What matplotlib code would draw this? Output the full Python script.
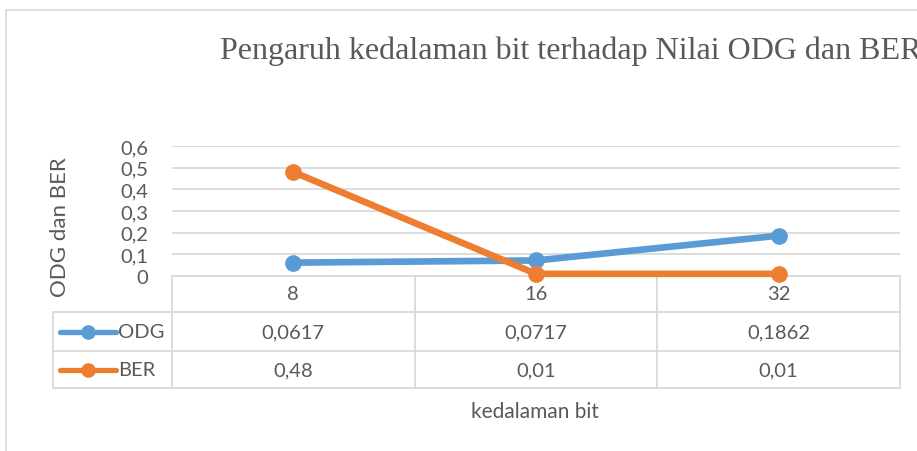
import matplotlib
matplotlib.use('Agg')
import matplotlib.pyplot as plt
from matplotlib.transforms import blended_transform_factory

# ---- data ----
categories = ['8', '16', '32']
odg = [0.0617, 0.0717, 0.1862]
ber = [0.48, 0.01, 0.01]
odg_labels = ['0,0617', '0,0717', '0,1862']
ber_labels = ['0,48', '0,01', '0,01']
yticks = [0, 0.1, 0.2, 0.3, 0.4, 0.5, 0.6]
ytick_labels = ['0', '0,1', '0,2', '0,3', '0,4', '0,5', '0,6']
series_names = ['ODG', 'BER']
title = 'Pengaruh kedalaman bit terhadap Nilai ODG dan BER'
xlabel = 'kedalaman bit'
ylabel = 'ODG dan BER'

# ---- style ----
W, H = 917, 452
BLUE = '#5B9BD5'
ORANGE = '#ED7D31'
GRID = '#D9D9D9'
TXT = '#595959'
FONT = 'Lato'
FS = 14.5

fig = plt.figure(figsize=(W / 100, H / 100), dpi=100)
fig.patch.set_facecolor('white')

ov = fig.add_axes([0, 0, 1, 1])
ov.set_xlim(0, W)
ov.set_ylim(H, 0)
ov.axis('off')

L, R, T, B = 172, 900, 147, 277
ax = fig.add_axes([L / W, 1 - B / H, (R - L) / W, (B - T) / H])
ax.patch.set_alpha(0)
ax.set_xlim(-0.5, len(categories) - 0.5)
ax.set_ylim(0, 0.6)
for s in ax.spines.values():
    s.set_visible(False)
for y in yticks[1:]:
    ax.axhline(y, color=GRID, lw=1.3, zorder=0)
ax.set_yticks(yticks)
ax.set_yticklabels(ytick_labels, fontfamily=FONT, fontsize=FS, color=TXT)
ax.tick_params(axis='y', length=0, pad=17)
ax.set_xticks([])

x = list(range(len(categories)))
ax.plot(x, odg, color=BLUE, lw=4.8, marker='o', ms=11, solid_capstyle='round', zorder=3, clip_on=False)
ax.plot(x, ber, color=ORANGE, lw=4.8, marker='o', ms=11, solid_capstyle='round', zorder=4, clip_on=False)

# chart border
ov.plot([6, W], [11, 11], color=GRID, lw=1.2)
ov.plot([6, 6], [11, H], color=GRID, lw=1.2)

# title
ov.text(220, 59, title, family='Liberation Serif', fontsize=23, color=TXT, ha='left', va='baseline')

# y label
ov.text(60, 227, ylabel, rotation=90, family=FONT, fontsize=16, color=TXT, ha='center', va='center')

# data table
tr = blended_transform_factory(ax.transData, ov.transData)
row_y = [277, 313, 352, 389]
tl = 53
lw_t = 1.3
ov.plot([L, R], [row_y[0], row_y[0]], color=GRID, lw=lw_t)
for y in row_y[1:]:
    ov.plot([tl, R], [y, y], color=GRID, lw=lw_t)
ov.plot([tl, tl], [row_y[1], row_y[3]], color=GRID, lw=lw_t)
for i in range(len(categories) + 1):
    ax.plot([i - 0.5, i - 0.5], [row_y[0], row_y[3]], color=GRID, lw=lw_t, transform=tr, clip_on=False)

centers = [(row_y[k] + row_y[k + 1]) / 2 for k in range(3)]
for i, c in enumerate(categories):
    ov.text(i, centers[0], c, transform=tr, family=FONT, fontsize=FS, color=TXT, ha='center', va='center')
for i in range(len(categories)):
    ov.text(i, centers[1], odg_labels[i], transform=tr, family=FONT, fontsize=FS, color=TXT, ha='center', va='center')
    ov.text(i, centers[2], ber_labels[i], transform=tr, family=FONT, fontsize=FS, color=TXT, ha='center', va='center')

for name, col, cy in zip(series_names, [BLUE, ORANGE], centers[1:]):
    ov.plot([60, 116], [cy, cy], color=col, lw=3.8, solid_capstyle='round')
    ov.plot([88], [cy], color=col, marker='o', ms=9.5)
    ov.text(118, cy, name, family=FONT, fontsize=FS, color=TXT, ha='left', va='center')

# x label
ov.text((L + R) / 2 - 1, 412, xlabel, family=FONT, fontsize=FS + 0.5, color=TXT, ha='center', va='center')

fig.savefig('out.png', dpi=100, facecolor='white')
